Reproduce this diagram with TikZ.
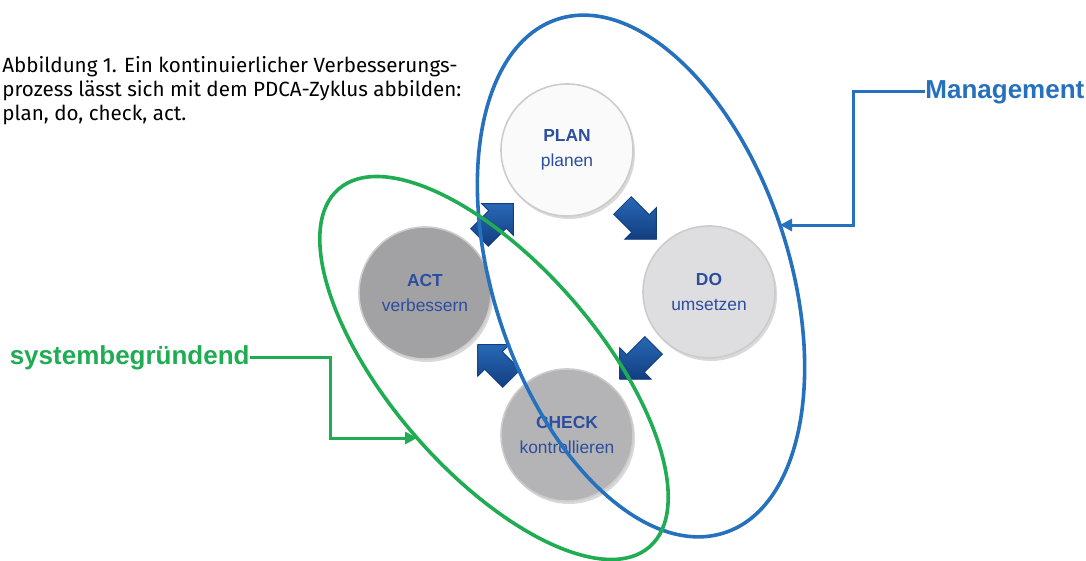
\documentclass[tikz,border=0pt]{standalone}
\usepackage{fontspec}
\setsansfont{Liberation Sans}
\newfontfamily\capfont{Fira Sans}
\usetikzlibrary{arrows.meta,shapes.arrows,shadows,intersections}
\definecolor{mgmtblue}{RGB}{38,113,190}
\definecolor{sysgreen}{RGB}{32,172,82}
\definecolor{labelblue}{RGB}{44,78,158}
\definecolor{cyclearrow}{RGB}{40,104,182}
\definecolor{cyclearrowdark}{RGB}{18,62,128}
\definecolor{phasewhite}{RGB}{250,250,250}
\definecolor{phaselight}{RGB}{222,222,224}
\definecolor{phasemid}{RGB}{180,180,182}
\definecolor{phasedark}{RGB}{162,162,164}

\begin{document}
\begin{tikzpicture}[x=0.5pt, y=0.5pt,
  phase/.style={circle, minimum size=66pt, inner sep=0pt, align=center,
                font=\sffamily\fontsize{8.7}{12.5}\selectfont, text=labelblue,
                draw=gray!40, line width=0.8pt,
                drop shadow={shadow xshift=1pt, shadow yshift=-1.5pt, opacity=0.3}},
  turn/.style={single arrow, minimum height=24pt, inner sep=6pt,
               single arrow head extend=5pt, top color=cyclearrow,
               bottom color=cyclearrowdark, draw=cyclearrowdark, line width=0.4pt},
  ring/.style={line width=1.8pt},
  tag/.style={font=\sffamily\bfseries\fontsize{13}{15}\selectfont, inner sep=0pt},
  link/.style={line width=1.5pt, -{Triangle[length=6pt,width=6pt]}}]
  \useasboundingbox (0,0) rectangle (1086,561);

  % caption
  \node[anchor=north west, align=left, inner sep=0pt,
        font=\capfont\fontsize{10.3}{12}\selectfont] (caption) at (2,505)
    {Abbildung 1. Ein kontinuierlicher Verbesserungs-\\
     prozess lässt sich mit dem PDCA-Zyklus abbilden:\\
     plan, do, check, act.};

  % PDCA phases
  \node[phase, fill=phasewhite] (plan) at (567,411) {\textbf{PLAN}\\planen};
  \node[phase, fill=phaselight] (do) at (709,269) {\textbf{DO}\\umsetzen};
  \node[phase, fill=phasemid] (check) at (567,126) {\textbf{CHECK}\\kontrollieren};
  \node[phase, fill=phasedark] (act) at (425,268) {\textbf{ACT}\\verbessern};

  % cycle arrows
  \node[turn, rotate=-45] (plando) at (635,343) {};
  \node[turn, rotate=-135] (docheck) at (641,203) {};
  \node[turn, rotate=135] (checkact) at (499,195) {};
  \node[turn, rotate=45] (actplan) at (492,336) {};

  % the two areas
  \draw[ring, mgmtblue, name path=mgmtring, rotate around={18:(641,285)}]
    (641,285) ellipse [x radius=148, y radius=270];
  \draw[ring, sysgreen, name path=sysring, rotate around={41:(494,193)}]
    (494,193) ellipse [x radius=104, y radius=237];

  % labels
  \node[tag, text=mgmtblue, anchor=west] (mgmt) at (925,469) {Management};
  \node[tag, text=sysgreen, anchor=east] (sys) at (250,203) {systembegründend};

  \path[name path=mgmtray] (853,336) -- (700,336);
  \path[name intersections={of=mgmtring and mgmtray, by=mgmttip}];
  \path[name path=sysray] (330,123) -- (480,123);
  \path[name intersections={of=sysring and sysray, by=systip}];

  \draw[link, mgmtblue] (mgmt.west) -- ++(-72,0) |- (mgmttip);
  \draw[link, sysgreen] (sys.east) -- ++(80,0) |- (systip);
\end{tikzpicture}
\end{document}
